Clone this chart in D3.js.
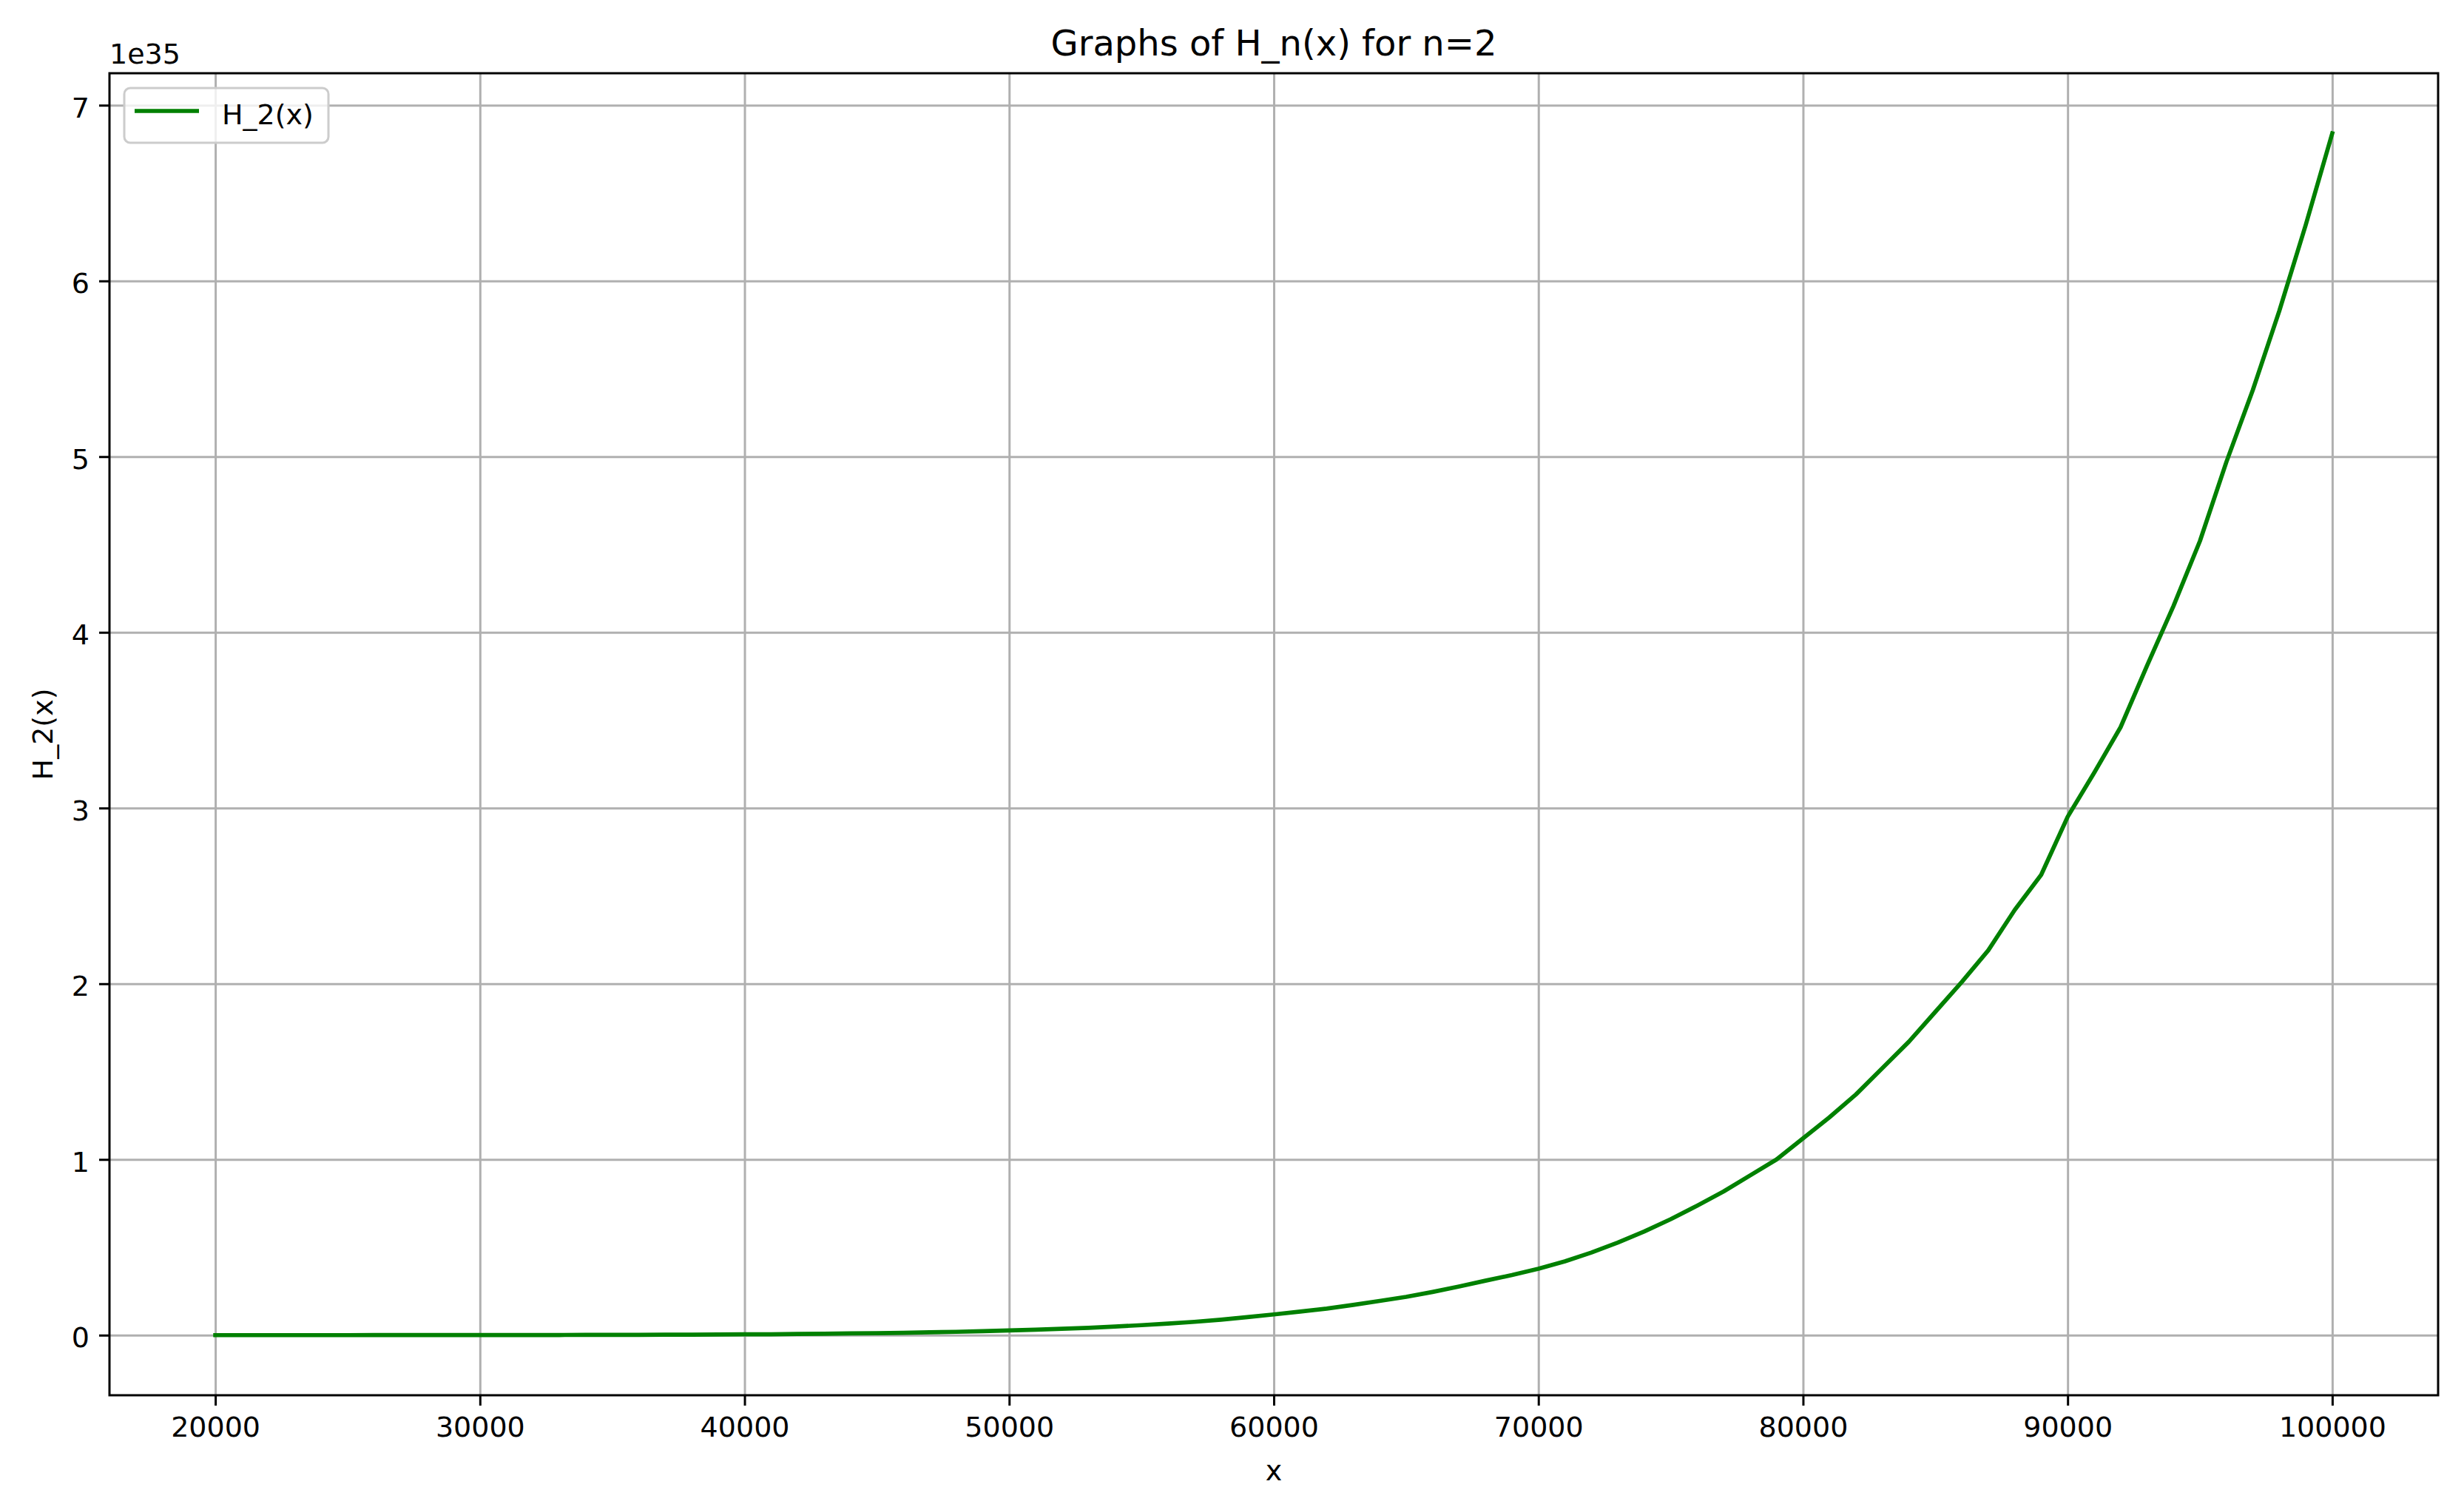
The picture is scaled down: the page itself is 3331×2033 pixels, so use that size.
<!DOCTYPE html>
<html>
<head>
<meta charset="utf-8">
<script src="https://cdn.jsdelivr.net/npm/d3@7"></script>
<style>
  body { margin: 0; background: #fff; }
  svg { font-family: "DejaVu Sans", sans-serif; display: block; }
</style>
</head>
<body>
<svg id="chart"></svg>
<script>
// x positions of the samples
var xValues = [20000, 21000, 22000, 23000, 24000, 25000, 26000, 27000, 28000, 29000,
               30000, 31000, 32000, 33000, 34000, 35000, 36000, 37000, 38000, 39000,
               40000, 41000, 42000, 43000, 44000, 45000, 46000, 47000, 48000, 49000,
               50000, 51000, 52000, 53000, 54000, 55000, 56000, 57000, 58000, 59000,
               60000, 61000, 62000, 63000, 64000, 65000, 66000, 67000, 68000, 69000,
               70000, 71000, 72000, 73000, 74000, 75000, 76000, 77000, 78000, 79000,
               80000, 81000, 82000, 83000, 84000, 85000, 86000, 87000, 88000, 89000,
               90000, 91000, 92000, 93000, 94000, 95000, 96000, 97000, 98000, 99000,
               100000]

// H_2(x) in units of 1e35
var hValues = [0.000, 0.000, 0.000, 0.000, 0.000, 0.000, 0.001, 0.001, 0.001, 0.001,
               0.001, 0.001, 0.001, 0.001, 0.002, 0.002, 0.002, 0.003, 0.003, 0.004,
               0.005, 0.005, 0.007, 0.008, 0.010, 0.011, 0.013, 0.016, 0.019, 0.023,
               0.027, 0.031, 0.036, 0.042, 0.049, 0.057, 0.066, 0.076, 0.088, 0.103,
               0.118, 0.134, 0.151, 0.172, 0.195, 0.218, 0.246, 0.277, 0.310, 0.342,
               0.378, 0.420, 0.470, 0.527, 0.590, 0.660, 0.737, 0.818, 0.909, 1.000,
               1.120, 1.240, 1.370, 1.520, 1.670, 1.840, 2.010, 2.190, 2.420, 2.620,
               2.950, 3.200, 3.460, 3.810, 4.150, 4.520, 4.970, 5.380, 5.830, 6.320,
               6.840]

var xTicks = [20000, 30000, 40000, 50000, 60000, 70000, 80000, 90000, 100000]
var yTicks = [0, 1, 2, 3, 4, 5, 6, 7]

var titleText = "Graphs of H_n(x) for n=2"
var seriesName = "H_2(x)"
var xLabel = "x"
var yLabel = "H_2(x)"
var offsetText = "1e35"

var dimensions = {
    width: 3331,
    height: 2033,
    margin: { top: 99, bottom: 147, left: 148, right: 35 }
}
var plotW = dimensions.width - dimensions.margin.left - dimensions.margin.right
var plotH = dimensions.height - dimensions.margin.top - dimensions.margin.bottom

var fontSize = 38
var tickLen = 14
var tickPad = 13

var dataset = xValues.map((x, i) => ({ x: x, y: hValues[i] }))

var svg = d3.select("#chart")
            .attr("width", dimensions.width)
            .attr("height", dimensions.height)

// matplotlib-like 5% margins around the data
var xExt = d3.extent(xValues), xPad = (xExt[1] - xExt[0]) * 0.05
var yExt = d3.extent(hValues), yPad = (yExt[1] - yExt[0]) * 0.05

var xScale = d3.scaleLinear()
               .domain([xExt[0] - xPad, xExt[1] + xPad])
               .range([dimensions.margin.left, dimensions.margin.left + plotW])

var yScale = d3.scaleLinear()
               .domain([yExt[0] - yPad, yExt[1] + yPad])
               .range([dimensions.margin.top + plotH, dimensions.margin.top])

// grid
var xGrid = svg.append("g")
               .attr("transform", `translate(0,${dimensions.margin.top + plotH})`)
               .call(d3.axisBottom(xScale).tickValues(xTicks).tickSize(-plotH).tickFormat(""))
var yGrid = svg.append("g")
               .attr("transform", `translate(${dimensions.margin.left},0)`)
               .call(d3.axisLeft(yScale).tickValues(yTicks).tickSize(-plotW).tickFormat(""))
svg.selectAll(".domain").remove()
xGrid.selectAll("line").attr("stroke", "#b0b0b0").attr("stroke-width", 3)
yGrid.selectAll("line").attr("stroke", "#b0b0b0").attr("stroke-width", 3)

// series line
var line = d3.line().x(d => xScale(d.x)).y(d => yScale(d.y))
svg.append("path")
   .datum(dataset)
   .attr("d", line)
   .attr("fill", "none")
   .attr("stroke", "#008000")
   .attr("stroke-width", 5.7)
   .attr("stroke-linejoin", "round")
   .attr("stroke-linecap", "square")

// axes with ticks
var xAxis = svg.append("g")
               .attr("transform", `translate(0,${dimensions.margin.top + plotH})`)
               .call(d3.axisBottom(xScale).tickValues(xTicks).tickSize(tickLen).tickPadding(tickPad).tickFormat(d3.format("d")))
var yAxis = svg.append("g")
               .attr("transform", `translate(${dimensions.margin.left},0)`)
               .call(d3.axisLeft(yScale).tickValues(yTicks).tickSize(tickLen).tickPadding(tickPad).tickFormat(d3.format("d")))
xAxis.select(".domain").remove()
yAxis.select(".domain").remove()
xAxis.selectAll(".tick line").attr("stroke", "#000").attr("stroke-width", 3)
yAxis.selectAll(".tick line").attr("stroke", "#000").attr("stroke-width", 3)
xAxis.selectAll("text").attr("font-size", fontSize).attr("fill", "#000")
     .attr("font-family", "DejaVu Sans").attr("dy", null).attr("y", tickLen + tickPad + 29)
yAxis.selectAll("text").attr("font-size", fontSize).attr("fill", "#000")
     .attr("font-family", "DejaVu Sans").attr("dy", "0.42em")

// spines
svg.append("rect")
   .attr("x", dimensions.margin.left)
   .attr("y", dimensions.margin.top)
   .attr("width", plotW)
   .attr("height", plotH)
   .attr("fill", "none")
   .attr("stroke", "#000")
   .attr("stroke-width", 3)

// title and labels
svg.append("text")
   .attr("x", dimensions.margin.left + plotW / 2)
   .attr("y", 75)
   .attr("text-anchor", "middle")
   .attr("font-size", 48)
   .text(titleText)

svg.append("text")
   .attr("x", dimensions.margin.left + plotW / 2)
   .attr("y", 2001)
   .attr("text-anchor", "middle")
   .attr("font-size", fontSize)
   .text(xLabel)

svg.append("text")
   .attr("transform", `translate(71,${dimensions.margin.top + plotH / 2}) rotate(-90)`)
   .attr("text-anchor", "middle")
   .attr("font-size", fontSize)
   .text(yLabel)

svg.append("text")
   .attr("x", dimensions.margin.left)
   .attr("y", 86)
   .attr("font-size", fontSize)
   .text(offsetText)

// legend
var legend = svg.append("g").attr("transform", "translate(168,119)")
legend.append("rect")
      .attr("width", 276)
      .attr("height", 74)
      .attr("rx", 8)
      .attr("fill", "#fff")
      .attr("fill-opacity", 0.8)
      .attr("stroke", "#cccccc")
      .attr("stroke-width", 3)
legend.append("line")
      .attr("x1", 14).attr("x2", 101)
      .attr("y1", 31).attr("y2", 31)
      .attr("stroke", "#008000")
      .attr("stroke-width", 5.7)
legend.append("text")
      .attr("x", 132)
      .attr("y", 49)
      .attr("font-size", fontSize)
      .text(seriesName)
</script>
</body>
</html>
